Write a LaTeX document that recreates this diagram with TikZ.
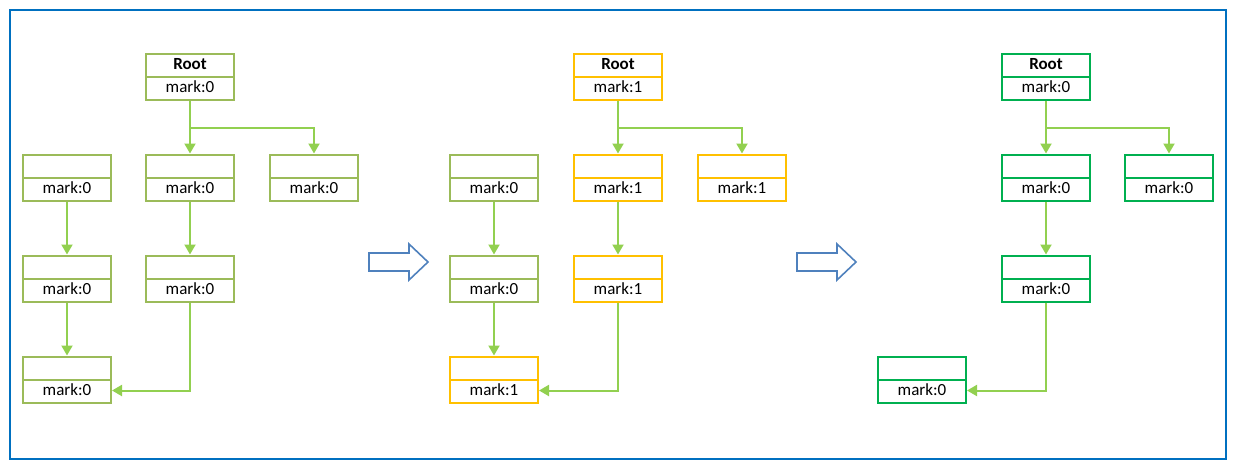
\documentclass[tikz,border=0pt]{standalone}
\usepackage{fontspec}
\setmainfont{Carlito}
\usetikzlibrary{arrows.meta,positioning,shapes.multipart}

\definecolor{treegreen}{HTML}{9BBB59}
\definecolor{markgold}{HTML}{FFC000}
\definecolor{donegreen}{HTML}{00B050}
\definecolor{linkgreen}{HTML}{92D050}
\definecolor{frameblue}{HTML}{0070C0}
\definecolor{stepblue}{HTML}{4F81BD}

\newcommand{\memotext}[2]{\strut#1\nodepart{two}\strut mark:#2}

\tikzset{
  memo/.style={rectangle split, rectangle split parts=2, draw=#1, line width=2pt,
    text width=88pt, inner xsep=0pt, inner ysep=0.5pt, align=center,
    font=\fontsize{17}{20}\selectfont},
  link/.style={draw=linkgreen, line width=2pt, -{Triangle[width=11pt,length=10pt]}},
  stepshape/.style={draw=stepblue, line width=1.6pt, fill=white, line join=miter}
}

\begin{document}
\begin{tikzpicture}[x=1pt,y=-1pt]
  \useasboundingbox (0,0) rectangle (1235,467);
  \draw [line width=2pt, color=frameblue] (10,10) rectangle (1226,459);

  % first state
  \node [memo=treegreen] (rootA) at (190,76.5) {\memotext{\textbf{Root}}{0}};
  \node [memo=treegreen] (a1A) at (67,177.5) {\memotext{}{0}};
  \node [memo=treegreen] (b1A) at (190,177.5) {\memotext{}{0}};
  \node [memo=treegreen] (c1A) at (314,177.5) {\memotext{}{0}};
  \node [memo=treegreen] (a2A) at (67,278.5) {\memotext{}{0}};
  \node [memo=treegreen] (b2A) at (190,278.5) {\memotext{}{0}};
  \node [memo=treegreen] (a3A) at (67,379.5) {\memotext{}{0}};

  \draw [link] (rootA) -- (b1A);
  \draw [link] (rootA.south) -- ([yshift=-27pt]rootA.south) -| (c1A.north);
  \draw [link] (a1A) -- (a2A);
  \draw [link] (a2A) -- (a3A);
  \draw [link] (b1A) -- (b2A);
  \draw [link] (b2A.south) |- ([yshift=-11pt]a3A.east);

  % second state
  \node [memo=markgold] (rootB) at (618,76.5) {\memotext{\textbf{Root}}{1}};
  \node [memo=treegreen] (a1B) at (494,177.5) {\memotext{}{0}};
  \node [memo=markgold] (b1B) at (618,177.5) {\memotext{}{1}};
  \node [memo=markgold] (c1B) at (742,177.5) {\memotext{}{1}};
  \node [memo=treegreen] (a2B) at (494,278.5) {\memotext{}{0}};
  \node [memo=markgold] (b2B) at (618,278.5) {\memotext{}{1}};
  \node [memo=markgold] (a3B) at (494,379.5) {\memotext{}{1}};

  \draw [link] (rootB) -- (b1B);
  \draw [link] (rootB.south) -- ([yshift=-27pt]rootB.south) -| (c1B.north);
  \draw [link] (a1B) -- (a2B);
  \draw [link] (a2B) -- (a3B);
  \draw [link] (b1B) -- (b2B);
  \draw [link] (b2B.south) |- ([yshift=-11pt]a3B.east);

  % third state
  \node [memo=donegreen] (rootC) at (1046,76.5) {\memotext{\textbf{Root}}{0}};
  \node [memo=donegreen] (b1C) at (1046,177.5) {\memotext{}{0}};
  \node [memo=donegreen] (c1C) at (1169,177.5) {\memotext{}{0}};
  \node [memo=donegreen] (b2C) at (1046,278.5) {\memotext{}{0}};
  \node [memo=donegreen] (a3C) at (922,379.5) {\memotext{}{0}};

  \draw [link] (rootC) -- (b1C);
  \draw [link] (rootC.south) -- ([yshift=-27pt]rootC.south) -| (c1C.north);
  \draw [link] (b1C) -- (b2C);
  \draw [link] (b2C.south) |- ([yshift=-11pt]a3C.east);

  % step arrows
  \foreach \sx in {369,797}
    \draw [stepshape, xshift=\sx] (0,253) -- (40,253) -- (40,244) -- (59,262) -- (40,280)
      -- (40,271) -- (0,271) -- cycle;
\end{tikzpicture}
\end{document}
